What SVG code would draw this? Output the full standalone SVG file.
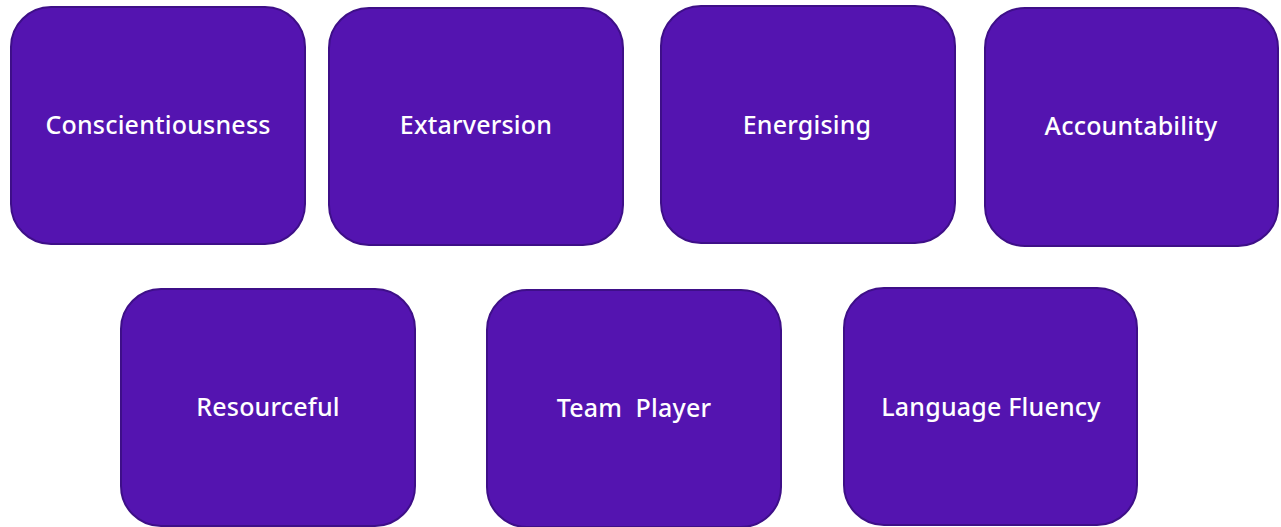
<svg xmlns="http://www.w3.org/2000/svg" width="1281" height="527" viewBox="0 0 1281 527">
  <style>
    .box { fill: #5414b0; stroke: #3e0f88; stroke-width: 2; }
    .label { fill: #ffffff; font-family: "Noto Sans", "Open Sans", sans-serif; font-size: 25px; font-weight: 500; letter-spacing: 0.2px; text-anchor: middle; dominant-baseline: central; white-space: pre; }
  </style>
  <rect width="1281" height="527" fill="#ffffff"/>
  <g id="conscientiousness">
    <rect class="box" x="11" y="7" width="294" height="237" rx="40" ry="40"/>
    <text class="label" x="158" y="124">Conscientiousness</text>
  </g>
  <g id="extarversion">
    <rect class="box" x="329" y="8" width="294" height="237" rx="40" ry="40"/>
    <text class="label" x="476" y="124">Extarversion</text>
  </g>
  <g id="energising">
    <rect class="box" x="661" y="6" width="294" height="237" rx="40" ry="40"/>
    <text class="label" x="807" y="124">Energising</text>
  </g>
  <g id="accountability">
    <rect class="box" x="985" y="8" width="293" height="238" rx="40" ry="40"/>
    <text class="label" x="1131" y="125">Accountability</text>
  </g>
  <g id="resourceful">
    <rect class="box" x="121" y="289" width="294" height="237" rx="40" ry="40"/>
    <text class="label" x="268" y="406">Resourceful</text>
  </g>
  <g id="team-player">
    <rect class="box" x="487" y="290" width="294" height="237" rx="40" ry="40"/>
    <text class="label" x="634" y="407" xml:space="preserve">Team  Player</text>
  </g>
  <g id="language-fluency">
    <rect class="box" x="844" y="288" width="293" height="237" rx="40" ry="40"/>
    <text class="label" x="991" y="406">Language Fluency</text>
  </g>
  <g id="connectors"/>
</svg>
